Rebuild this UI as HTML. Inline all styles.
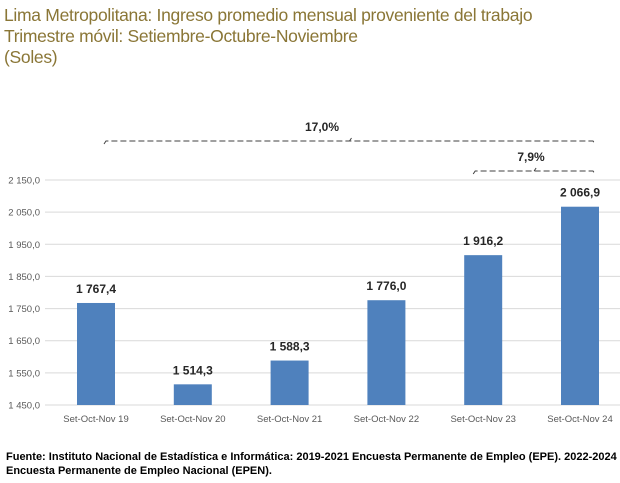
<!DOCTYPE html>
<html><head><meta charset="utf-8"><style>
body{margin:0;background:#fff;width:620px;height:483px;overflow:hidden;font-family:"Liberation Sans",sans-serif}
.t{position:absolute;left:4px;color:#8a7636;font-size:17.5px;line-height:21px;letter-spacing:-0.3px}
.src{position:absolute;left:6px;top:450px;font-size:11px;font-weight:bold;line-height:14px;width:612px}
</style></head><body>
<div class="t" style="top:5px">Lima Metropolitana: Ingreso promedio mensual proveniente del trabajo<br>Trimestre móvil: Setiembre-Octubre-Noviembre<br>(Soles)</div>
<svg id="c" width="620" height="483" style="position:absolute;left:0;top:0"></svg>
<div class="src">Fuente: Instituto Nacional de Estadística e Informática: 2019-2021 Encuesta Permanente de Empleo (EPE). 2022-2024 Encuesta Permanente de Empleo Nacional (EPEN).</div>
<script>
const categories=["Set-Oct-Nov 19","Set-Oct-Nov 20","Set-Oct-Nov 21","Set-Oct-Nov 22","Set-Oct-Nov 23","Set-Oct-Nov 24"];
const values=[1767.4,1514.3,1588.3,1776.0,1916.2,2066.9];
const ticks=[1450,1550,1650,1750,1850,1950,2050,2150];
const ns="http://www.w3.org/2000/svg",svg=document.getElementById('c');
const y=v=>405-(v-1450)*(225/700);
const x=i=>96+i*96.8;
const fmt=v=>{let s=v.toFixed(1).replace('.',',');let [a,b]=s.split(',');a=a.replace(/\B(?=(\d{3})+(?!\d))/g,' ');return a+','+b;};
function mk(t,a,txt){const e=document.createElementNS(ns,t);for(const k in a)e.setAttribute(k,a[k]);if(txt!=null)e.textContent=txt;svg.appendChild(e);return e;}
ticks.forEach(t=>{
 const l=mk('line',{x1:45,x2:620,y1:y(t),y2:y(t),stroke:'#d9d9d9','stroke-width':1});
 
 
 const tx=mk('text',{x:40,y:y(t)+3.5,'text-anchor':'end','font-size':9.5,fill:'#595959'},fmt(t));
 
 
});
values.forEach((v,i)=>{
 const b=mk('rect',{x:x(i)-19,y:y(v),width:38,height:405-y(v),fill:'#4f81bd'});
 
 
 const l=mk('text',{x:x(i),y:y(v)-10,'text-anchor':'middle','font-size':12,'font-weight':'bold',fill:'#262626'},fmt(v));
 
 
 const c=mk('text',{x:x(i),y:422,'text-anchor':'middle','font-size':9.5,fill:'#595959'},categories[i]);
 
 
});
function bracket(x1,x2,yy,lab,name,lx){
 const m=(x1+x2)/2;
 const p=mk('path',{d:`M${x1},${yy+3} L${x1+2},${yy} L${x2-2},${yy} L${x2},${yy+3} M${m},${yy} L${m+2},${yy-3}`,stroke:'#404040',fill:'none','stroke-dasharray':'6,3','stroke-width':1});
 
 
 const t=mk('text',{x:lx,y:yy-10,'text-anchor':'middle','font-size':12,'font-weight':'bold',fill:'#262626'},lab);
 
 
}
bracket(x(0)+8,x(5)+15,141,'17,0%','growth-2019-2024',322);
bracket(x(4)-10,x(5)+15,171,'7,9%','growth-2023-2024',531);
</script>
</body></html>
